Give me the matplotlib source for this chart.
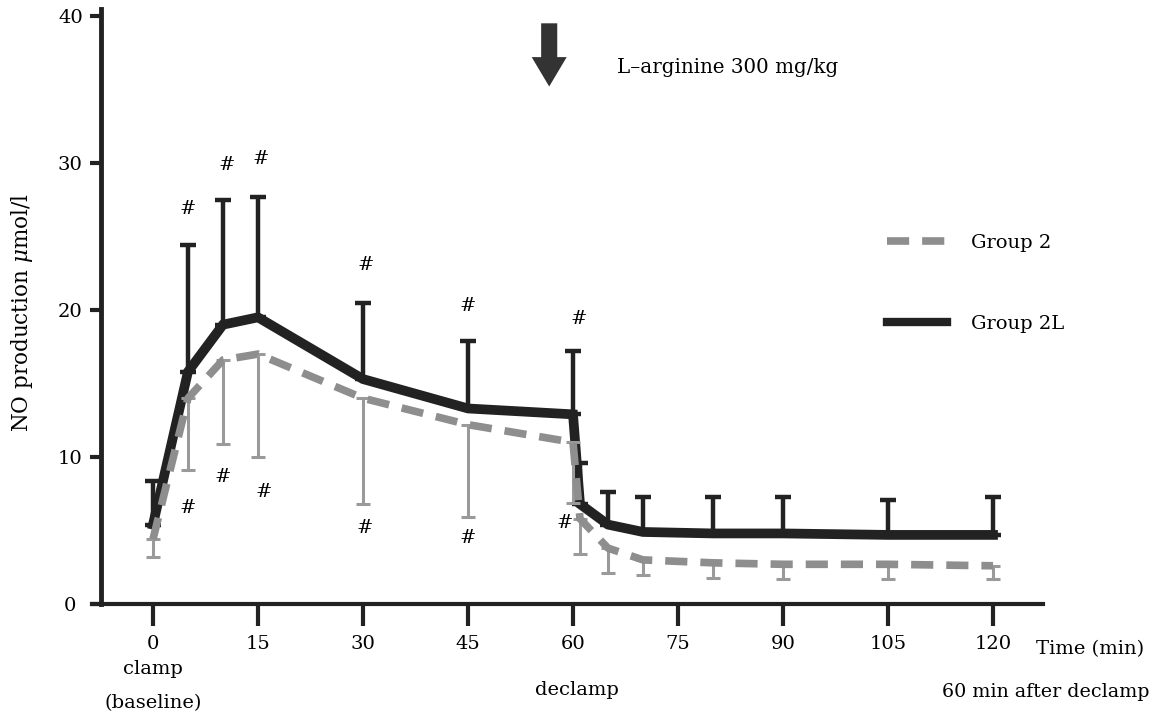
import matplotlib
matplotlib.use("Agg")
import matplotlib.pyplot as plt
from matplotlib.lines import Line2D
from matplotlib.patches import FancyArrow
import numpy as np

plt.rcParams['font.family'] = ['DejaVu Serif']
plt.rcParams['mathtext.fontset'] = 'dejavuserif'

# Sampling times (min); 61 = 1 min after declamp
time_min = [0, 5, 10, 15, 30, 45, 60, 61, 65, 70, 80, 90, 105, 120]
x_ticks = [0, 15, 30, 45, 60, 75, 90, 105, 120]
y_ticks = [0, 10, 20, 30, 40]

# Group 2L (L-arginine): mean and upper SD
group2L_mean = [5.4, 15.8, 19.0, 19.5, 15.3, 13.3, 12.9, 6.8, 5.4, 4.9, 4.8, 4.8, 4.7, 4.7]
group2L_sd = [3.0, 8.6, 8.5, 8.2, 5.2, 4.6, 4.3, 2.8, 2.2, 2.4, 2.5, 2.5, 2.4, 2.6]

# Group 2: mean and lower SD
group2_mean = [4.4, 14.0, 16.6, 17.0, 14.0, 12.2, 11.0, 5.8, 3.8, 3.0, 2.8, 2.7, 2.7, 2.6]
group2_sd = [1.2, 4.9, 5.7, 7.0, 7.2, 6.3, 4.1, 2.4, 1.7, 1.0, 1.0, 1.0, 1.0, 0.9]

# Indices of time points marked as significant (#)
sig_idx = [1, 2, 3, 4, 5, 6]
# placement of the # marks relative to the bar ends (points)
sig_dx_2L = [0, 3, 2, 2, 0, 4]
sig_dy_2L = [26, 25, 27, 27, 25, 23]
sig_dx_2 = [0, 0, 4, 1, 0, -6]
sig_dy_2 = [-27, -24, -25, -17, -15, -15]

BLACK = '#222222'
GREY = '#8e8e8e'
GREY_BAR = '#9a9a9a'
FS = 14

W, H = 1153, 719
fig = plt.figure(figsize=(W / 100, H / 100), dpi=100)
ax = fig.add_axes([92 / W, 115 / H, (1043 - 92) / W, 595.4 / H])
ax.set_xlim(-8.71, 127.14)
ax.set_ylim(0, 40.5)

t = np.array(time_min)
m2L = np.array(group2L_mean)
s2L = np.array(group2L_sd)
m2 = np.array(group2_mean)
s2 = np.array(group2_sd)

# Group 2L: thick black line with upper error bars
ax.errorbar(t, m2L, yerr=[np.zeros_like(s2L), s2L], fmt='none',
            ecolor=BLACK, elinewidth=3.2, capsize=6, capthick=3.2, zorder=2)
ax.plot(t, m2L, color=BLACK, lw=7, solid_joinstyle='miter', zorder=3)

# Group 2: grey dashed line with lower error bars
ax.errorbar(t, m2, yerr=[s2, np.zeros_like(s2)], fmt='none',
            ecolor=GREY_BAR, elinewidth=2.2, capsize=5, capthick=2.2, zorder=4)
ax.plot(t, m2, color=GREY, lw=5.5, dashes=(2.9, 1.7), dash_capstyle='butt', zorder=5)

# significance marks
for k, i in enumerate(sig_idx):
    ax.annotate('#', xy=(t[i], m2L[i] + s2L[i]), xytext=(sig_dx_2L[k], sig_dy_2L[k]),
                textcoords='offset points', ha='center', va='center', fontsize=14)
    ax.annotate('#', xy=(t[i], m2[i] - s2[i]), xytext=(sig_dx_2[k], sig_dy_2[k]),
                textcoords='offset points', ha='center', va='center', fontsize=14)

# L-arginine administration arrow
ax.add_patch(FancyArrow(56.6, 39.5, 0, -4.3, width=2.3, head_width=5.0,
                        head_length=2.0, length_includes_head=True,
                        color='#333333', lw=0))
ax.text(66.3, 36.5, 'L\u2013arginine 300 mg/kg', fontsize=14.3, ha='left', va='center')

# axes styling
for side in ('top', 'right'):
    ax.spines[side].set_visible(False)
ax.spines['left'].set_position(('data', -7.43))
ax.spines['left'].set_linewidth(3.5)
ax.spines['bottom'].set_linewidth(3)
ax.spines['left'].set_color(BLACK)
ax.spines['bottom'].set_color(BLACK)
ax.set_xticks(x_ticks)
ax.set_yticks(y_ticks)
ax.tick_params(axis='x', direction='out', length=16, width=3, pad=6,
               labelsize=FS, color=BLACK)
ax.tick_params(axis='y', direction='out', length=8, width=3, pad=14,
               labelsize=FS, color=BLACK)
for lab in ax.get_yticklabels():
    lab.set_horizontalalignment('center')

ax.text(-0.074, 0.49, 'NO production $\\mu$mol/l', transform=ax.transAxes,
        rotation=90, ha='center', va='center', fontsize=15.5)

# annotations under the time axis
fig.text(153 / W, 1 - 669 / H, 'clamp', ha='center', va='center', fontsize=FS)
fig.text(153 / W, 1 - 703 / H, '(baseline)', ha='center', va='center', fontsize=FS)
fig.text(577 / W, 1 - 690 / H, 'declamp', ha='center', va='center', fontsize=FS)
fig.text(1090 / W, 1 - 649 / H, 'Time (min)', ha='center', va='center', fontsize=FS)
fig.text(1046 / W, 1 - 692 / H, '60 min after declamp', ha='center', va='center', fontsize=13.7)

# legend
handles = [
    Line2D([], [], color=GREY, lw=5.5, dashes=(2.9, 1.7), dash_capstyle='butt'),
    Line2D([], [], color=BLACK, lw=6),
]
ax.legend(handles, ['Group 2', 'Group 2L'], loc='upper left',
          bbox_to_anchor=(887 / W, 1 - 234 / H), bbox_transform=fig.transFigure,
          frameon=False, borderpad=0, borderaxespad=0, handlelength=3.1,
          handletextpad=1.2, labelspacing=3.25, fontsize=FS)

fig.savefig('out.png', dpi=100)
